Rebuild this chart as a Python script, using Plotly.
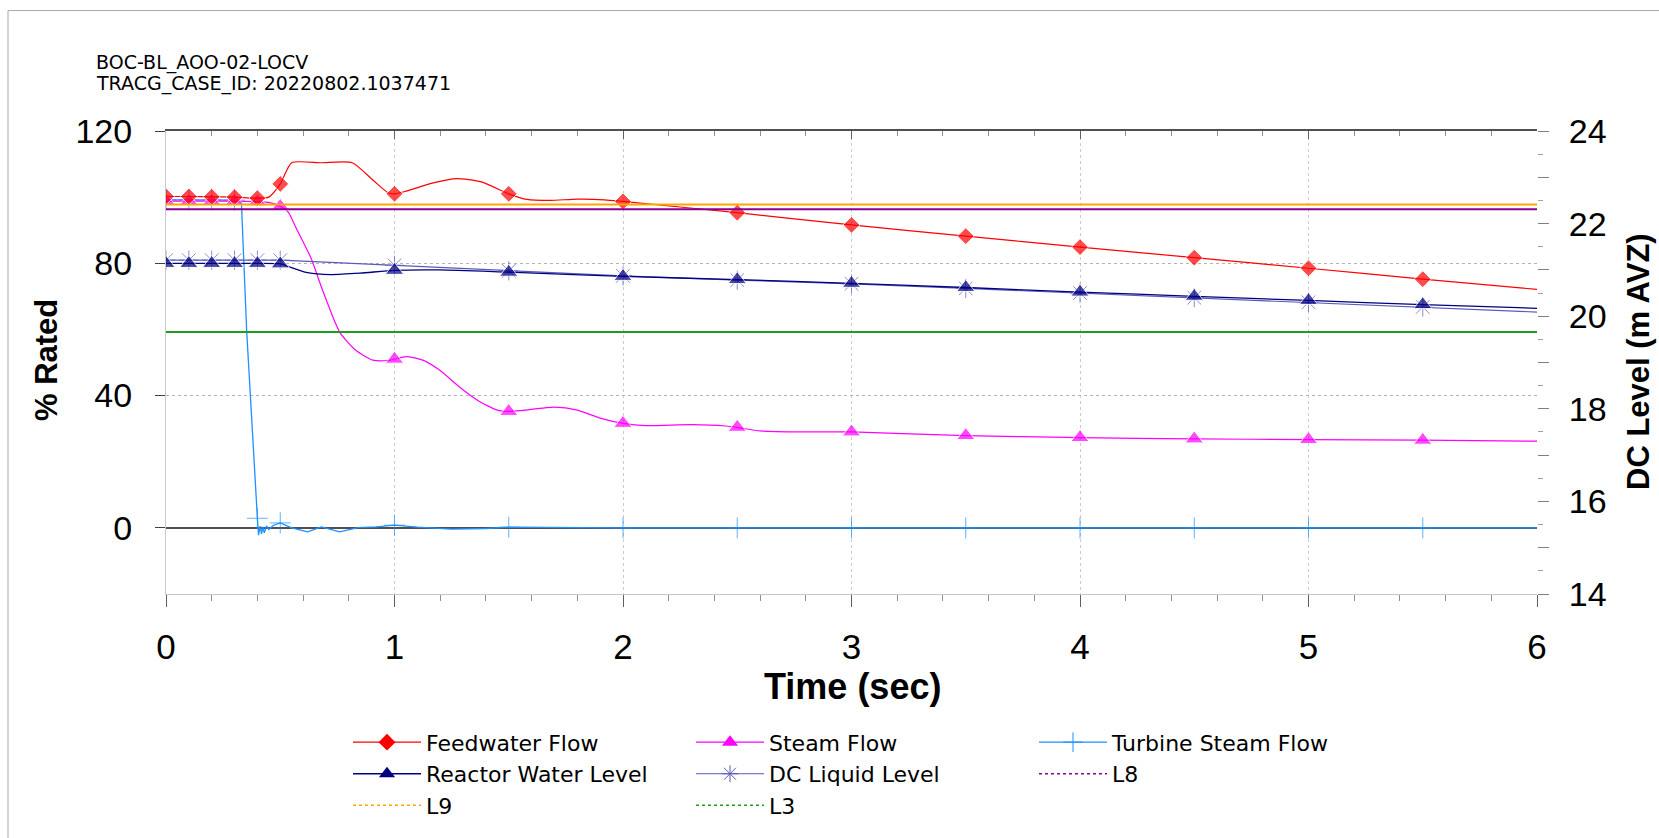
import plotly.graph_objects as go

# ---------------- data ----------------
TITLE_LINE1 = "BOC-BL_AOO-02-LOCV"
TITLE_LINE2 = "TRACG_CASE_ID: 20220802.1037471"
X_TITLE = "Time (sec)"
Y_TITLE = "% Rated"
Y2_TITLE = "DC Level (m AVZ)"

X_TICKS = [0, 1, 2, 3, 4, 5, 6]
Y_TICKS = [0, 40, 80, 120]
Y2_TICKS = [14, 15, 16, 17, 18, 19, 20, 21, 22, 23, 24]
Y2_LABELS = ["14", "", "16", "", "18", "", "20", "", "22", "", "24"]

MARK_T = [0, 0.1, 0.2, 0.3, 0.4, 0.5, 1.0, 1.5, 2.0, 2.5, 3.0, 3.5, 4.0, 4.5, 5.0, 5.5]

# Feedwater Flow (% rated)
FW_T = [0, 0.1, 0.2, 0.3, 0.4, 0.45, 0.5, 0.55, 0.68, 0.815, 0.905, 0.97, 1.0, 1.05,
        1.17, 1.27, 1.38, 1.5, 1.58, 1.68, 1.8, 1.92, 2.0, 2.5, 3.0, 3.5, 4.0, 4.5,
        5.0, 5.5, 6.0]
FW_V = [100.2, 100.2, 100.1, 100.0, 99.7, 100.0, 104.0, 110.4, 110.4, 110.4, 105.2,
        101.4, 101.0, 101.8, 104.3, 105.6, 104.6, 101.0, 99.3, 99.0, 99.4, 99.2, 98.7,
        95.3, 91.6, 88.2, 84.9, 81.7, 78.5, 75.2, 72.1]

# Steam Flow (% rated)
ST_T = [0, 0.1, 0.2, 0.3, 0.4, 0.45, 0.5, 0.535, 0.57, 0.635, 0.686, 0.76, 0.832,
        0.905, 0.971, 1.0, 1.051, 1.124, 1.197, 1.284, 1.37, 1.45, 1.5, 1.56, 1.7,
        1.8, 1.9, 2.0, 2.1, 2.3, 2.45, 2.5, 2.6, 2.8, 3.0, 3.5, 4.0, 4.5, 5.0, 5.5, 6.0]
ST_V = [98.8, 98.8, 98.8, 98.8, 98.6, 98.4, 97.2, 95.5, 90.6, 81.5, 71.7, 59.2, 53.6,
        50.7, 50.6, 51.0, 51.8, 50.7, 47.7, 42.6, 38.3, 35.6, 35.2, 35.5, 36.5, 35.6,
        33.2, 31.6, 30.9, 31.2, 30.8, 30.4, 29.3, 29.0, 29.0, 27.9, 27.3, 26.9, 26.7,
        26.5, 26.2]

# Turbine Steam Flow (% rated)
TB_T = [0, 0.1, 0.2, 0.3, 0.33, 0.353, 0.4, 0.405, 0.412, 0.418, 0.424, 0.43, 0.44,
        0.45, 0.47, 0.5, 0.55, 0.62, 0.68, 0.76, 0.84, 0.92, 1.0, 1.1, 1.25, 1.4,
        1.5, 1.7, 2.0, 2.5, 3.0, 3.5, 4.0, 4.5, 5.0, 5.5, 6.0]
TB_V = [99.2, 99.2, 99.2, 99.1, 98.4, 59.6, 2.9, -2.2, 0.5, -1.8, 0.3, -1.5, 0.6,
        -0.5, 0.8, 1.5, 0.0, -1.2, 0.3, -1.2, 0.1, 0.3, 0.8, 0.2, -0.4, -0.2, 0.2,
        0.1, 0.0, 0.0, 0.0, 0.0, 0.0, 0.0, 0.0, 0.0, 0.0]

# Reactor Water Level (m AVZ)
RWL_T = [0, 0.1, 0.2, 0.3, 0.4, 0.5, 0.55, 0.62, 0.72, 0.85, 1.0, 1.2, 1.5, 2.0,
         2.5, 3.0, 3.5, 4.0, 4.5, 5.0, 5.5, 6.0]
RWL_V = [21.14, 21.14, 21.14, 21.14, 21.14, 21.13, 21.05, 20.94, 20.90, 20.93, 20.99,
         21.0, 20.95, 20.86, 20.79, 20.71, 20.62, 20.52, 20.43, 20.34, 20.25, 20.17]

# DC Liquid Level (m AVZ)
DCL_T = [0, 0.1, 0.2, 0.3, 0.4, 0.5, 0.6, 1.0, 1.5, 2.0, 2.5, 3.0, 3.5, 4.0, 4.5,
         5.0, 5.5, 6.0]
DCL_V = [21.21, 21.21, 21.21, 21.21, 21.21, 21.21, 21.19, 21.10, 20.98, 20.87, 20.78,
         20.70, 20.60, 20.50, 20.40, 20.30, 20.20, 20.09]

# Level setpoints (m AVZ)
L_T = [0, 6]
L9_V = [22.41, 22.41]
L8_V = [22.31, 22.31]
L3_V = [19.66, 19.66]

# ---------------- styling helpers ----------------
FONT = "Liberation Sans, Arial, sans-serif"
LFONT = "DejaVu Sans, Verdana, sans-serif"

# plot-area geometry in pixels
W, H = 1659, 838
L_PX, R_PX, T_PX, B_PX = 166, 1537, 131, 600
PW, PH = R_PX - L_PX, B_PX - T_PX


def px_x(p):
    return (p - L_PX) / PW


def px_y(p):
    return (B_PX - p) / PH


def sizes(ts, s):
    mk = {round(m, 3) for m in MARK_T}
    return [s if round(t, 3) in mk else 0 for t in ts]


fig = go.Figure()


def add_series(t, v, name, line, marker_sym, msize, mstyle, legend, rank, yaxis="y"):
    # the data trace (markers only at the recorded marker times)
    fig.add_trace(go.Scatter(
        x=t, y=v, mode="lines+markers", yaxis=yaxis, showlegend=False,
        line=line, marker=dict(symbol=marker_sym, size=sizes(t, msize), **mstyle)))
    # legend entry
    leg_line = {k: val for k, val in line.items() if k not in ("shape", "smoothing")}
    fig.add_trace(go.Scatter(
        x=[None], y=[None], mode="lines+markers", yaxis=yaxis, name=name,
        line=leg_line, marker=dict(symbol=marker_sym, size=min(msize, 14), **mstyle),
        legend=legend, legendrank=rank))


# setpoint lines (right axis)
for name, vals, col, leg, rank in [("L9", L9_V, "#FFA500", "legend", 3),
                                   ("L3", L3_V, "#1E9E1E", "legend2", 6),
                                   ("L8", L8_V, "#8B008B", "legend3", 8)]:
    fig.add_trace(go.Scatter(x=L_T, y=vals, mode="lines", yaxis="y2",
                             line=dict(color=col, width=2), showlegend=False,
                             hoverinfo="skip"))
    fig.add_trace(go.Scatter(x=[None], y=[None], mode="lines", yaxis="y2", name=name,
                             line=dict(color=col, width=1.5, dash="dot"),
                             legend=leg, legendrank=rank))

add_series(TB_T, TB_V, "Turbine Steam Flow", dict(color="#1E90FF", width=1.3),
           "cross-thin-open", 15, dict(line=dict(color="#5AAEFF", width=1)),
           "legend3", 7)
add_series(ST_T, ST_V, "Steam Flow",
           dict(color="#FF00FF", width=1.2, shape="spline", smoothing=0.6),
           "triangle-up", 16, dict(color="#FF00FF"), "legend2", 4)
add_series(FW_T, FW_V, "Feedwater Flow",
           dict(color="#FF0000", width=1.2, shape="spline", smoothing=0.6),
           "diamond", 13, dict(color="#FF0000"), "legend", 1)
add_series(DCL_T, DCL_V, "DC Liquid Level", dict(color="#5A5AB8", width=1.2),
           "asterisk-open", 16, dict(line=dict(color="#6A6AC8", width=1)),
           "legend2", 5, yaxis="y2")
add_series(RWL_T, RWL_V, "Reactor Water Level",
           dict(color="#000080", width=1.3, shape="spline", smoothing=0.6),
           "triangle-up", 16, dict(color="#000080"), "legend", 2, yaxis="y2")

# empty trace so the mirrored top axis is rendered
fig.add_trace(go.Scatter(x=[None], y=[None], xaxis="x2", showlegend=False,
                         hoverinfo="skip"))

legend_common = dict(font=dict(family=LFONT, size=22, color="#000000"),
                     bgcolor="rgba(0,0,0,0)", borderwidth=0, itemwidth=68,
                     tracegroupgap=0, orientation="v", xanchor="left",
                     yanchor="top", y=px_y(729), traceorder="normal")

fig.update_layout(
    width=W, height=H,
    margin=dict(l=L_PX, r=W - R_PX, t=T_PX, b=H - B_PX),
    paper_bgcolor="#FFFFFF", plot_bgcolor="#FFFFFF",
    showlegend=True,
    legend=dict(x=px_x(348), **legend_common),
    legend2=dict(x=px_x(691), **legend_common),
    legend3=dict(x=px_x(1034), **legend_common),
    xaxis=dict(range=[0, 6], tickvals=X_TICKS, ticks="outside", ticklen=12,
               tickcolor="#606060", tickwidth=1,
               tickfont=dict(family=FONT, size=35, color="#000000"),
               ticklabelstandoff=10,
               showline=True, linecolor="#C8C8C8", linewidth=1,
               showgrid=True, gridcolor="#CCCCCC", griddash="dot", gridwidth=1,
               zeroline=False,
               minor=dict(dtick=0.2, ticks="outside", ticklen=6,
                          tickcolor="#909090", showgrid=False)),
    xaxis2=dict(range=[0, 6], overlaying="x", side="top", anchor="y",
                dtick=1, ticks="inside", ticklen=8, tickcolor="#606060",
                showticklabels=False, showline=True, linecolor="#505050",
                linewidth=1.5, showgrid=False, zeroline=False,
                minor=dict(dtick=0.2, ticks="inside", ticklen=5,
                           tickcolor="#909090", showgrid=False)),
    yaxis=dict(range=[-20, 120], tickvals=Y_TICKS, ticks="outside", ticklen=10,
               tickcolor="#404040",
               tickfont=dict(family=FONT, size=34, color="#000000"),
               ticklabelstandoff=16,
               showline=True, linecolor="#C8C8C8", linewidth=1,
               showgrid=True, gridcolor="#B4B4B4", griddash="dot", gridwidth=1,
               zeroline=True, zerolinecolor="#505050", zerolinewidth=1.5),
    yaxis2=dict(range=[14, 24], overlaying="y", side="right", anchor="x",
                tickvals=Y2_TICKS, ticktext=Y2_LABELS, ticks="outside",
                ticklen=11, tickcolor="#808080",
                tickfont=dict(family=FONT, size=34, color="#000000"),
                ticklabelstandoff=13,
                showline=False, showgrid=False, zeroline=False,
                minor=dict(dtick=0.5, ticks="outside", ticklen=5,
                           tickcolor="#A0A0A0", showgrid=False)),
    shapes=[dict(type="rect", xref="paper", yref="paper",
                 x0=px_x(8), x1=px_x(1700), y0=px_y(900), y1=px_y(9),
                 line=dict(color="#A8A8A8", width=1), layer="below")],
    annotations=[
        dict(text=TITLE_LINE1, xref="paper", yref="paper", x=px_x(94), y=px_y(62),
             xanchor="left", yanchor="middle", showarrow=False,
             font=dict(family=LFONT, size=19, color="#000000")),
        dict(text=TITLE_LINE2, xref="paper", yref="paper", x=px_x(94), y=px_y(83),
             xanchor="left", yanchor="middle", showarrow=False,
             font=dict(family=LFONT, size=19, color="#000000")),
        dict(text="<b>" + X_TITLE + "</b>", xref="paper", yref="paper",
             x=px_x(852), y=px_y(694), xanchor="center", yanchor="middle",
             showarrow=False, font=dict(family=FONT, size=36, color="#000000")),
        dict(text="<b>" + Y_TITLE + "</b>", xref="paper", yref="paper",
             x=px_x(46), y=px_y(363), xanchor="center", yanchor="middle",
             textangle=-90, showarrow=False,
             font=dict(family=FONT, size=31, color="#000000")),
        dict(text="<b>" + Y2_TITLE + "</b>", xref="paper", yref="paper",
             x=px_x(1638), y=px_y(365), xanchor="center", yanchor="middle",
             textangle=-90, showarrow=False,
             font=dict(family=FONT, size=31, color="#000000")),
    ],
)

fig.write_html("out.html",
               config={"displayModeBar": False},
               post_script="document.body.style.margin='0px';"
                           "document.body.style.overflow='hidden';")
